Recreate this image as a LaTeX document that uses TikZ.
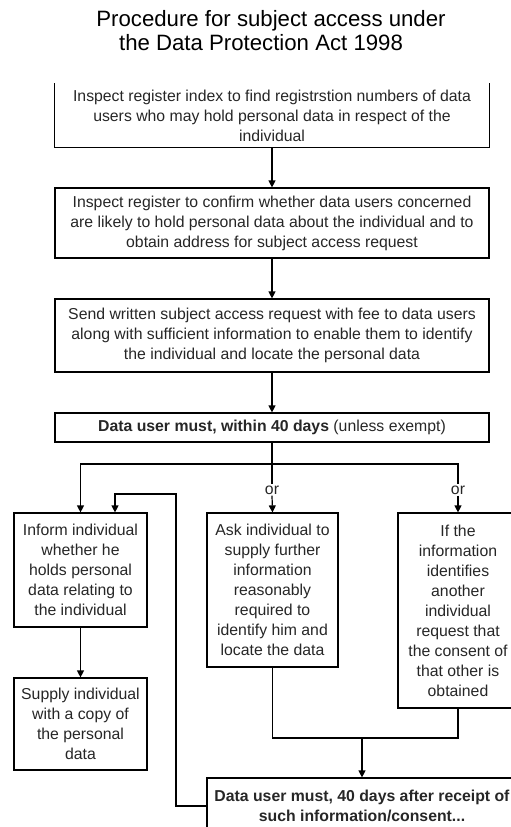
\documentclass[tikz,border=0pt]{standalone}
\usepackage{fontspec}
\setmainfont{Liberation Sans}
\usetikzlibrary{arrows.meta,positioning}

\tikzset{
  stepbox/.style={draw, line width=1.2pt, align=center, inner sep=0pt,
    font=\fontsize{15.8}{20}\selectfont, text=black!85},
  flow/.style={line width=1.2pt, -{Triangle[width=7pt,length=7pt]}},
  link/.style={line width=1.2pt},
  orlabel/.style={inner sep=1pt, font=\fontsize{15.8}{20}\selectfont, text=black!85},
  heading/.style={inner sep=0pt, font=\fontsize{22.2}{22}\selectfont},
}

\begin{document}
\begin{tikzpicture}[x=1pt,y=-1pt]
    \useasboundingbox (0,0) rectangle (511,827);

    % Title
    \node[heading] (title1) at (271,21) {Procedure for subject access under};
    \node[heading] (title2) at (261,43) {the Data Protection Act 1998};

    % Steps
    \node[stepbox, draw=none, minimum width=434pt, minimum height=63pt] (index) at (272,115.5)
        {Inspect register index to find registrstion numbers of data\\users who may hold personal data in respect of the\\individual};
    \node[stepbox, minimum width=434pt, minimum height=70pt] (register) at (272,223)
        {Inspect register to confirm whether data users concerned\\are likely to hold personal data about the individual and to\\obtain address for subject access request};
    \node[stepbox, minimum width=434pt, minimum height=73pt] (request) at (272,335.5)
        {Send written subject access request with fee to data users\\along with sufficient information to enable them to identify\\the individual and locate the personal data};
    \node[stepbox, minimum width=434pt, minimum height=29pt] (must) at (272,427.5)
        {\textbf{Data user must, within 40 days} (unless exempt)};

    \node[orlabel] (or1) at (272,490) {or};
    \node[orlabel] (or2) at (458,490) {or};

    \node[stepbox, minimum width=133pt, minimum height=114pt] (inform) at (80.5,570)
        {Inform individual\\whether he\\holds personal\\data relating to\\the individual};
    \node[stepbox, minimum width=133pt, minimum height=92pt] (supply) at (80.5,724)
        {Supply individual\\with a copy of\\the personal\\data};
    \node[stepbox, minimum width=131pt, minimum height=154pt] (ask) at (272.5,590)
        {Ask individual to\\supply further\\information\\reasonably\\required to\\identify him and\\locate the data};
    \node[stepbox, minimum width=120pt, minimum height=195pt] (other) at (458,610.5)
        {If the\\information\\identifies\\another\\individual\\request that\\the consent of\\that other is\\obtained};
    \node[stepbox, minimum width=310pt, minimum height=56pt] (later) at (362,806)
        {\textbf{Data user must, 40 days after receipt of}\\\textbf{such information/consent...}};

    % Coordinates
    \coordinate (split) at (272,464);
    \coordinate (merge) at (362,738);
    \coordinate (loop) at (176,494);

    % Drawing
    \draw[link] (index.north west) |- (index.south east) -- (index.north east);
    \draw[flow] (index.south) -- (register.north);
    \draw[flow] (register.south) -- (request.north);
    \draw[flow] (request.south) -- (must.north);
    \draw[link] (must.south) -- (or1.north);
    \draw[flow] (split) -| (inform.north);
    \draw[link] (split) -| (or2.north);
    \draw[flow] (or1.south) -- (ask.north);
    \draw[flow] (or2.south) -- (other.north);
    \draw[flow] (inform.south) -- (supply.north);
    \draw[link] (ask.south) |- (merge) -| (other.south);
    \draw[flow] (merge) -- (later.north);
    \draw[flow] (later.west) -| (loop) -| ([xshift=34.5pt]inform.north);
\end{tikzpicture}
\end{document}
